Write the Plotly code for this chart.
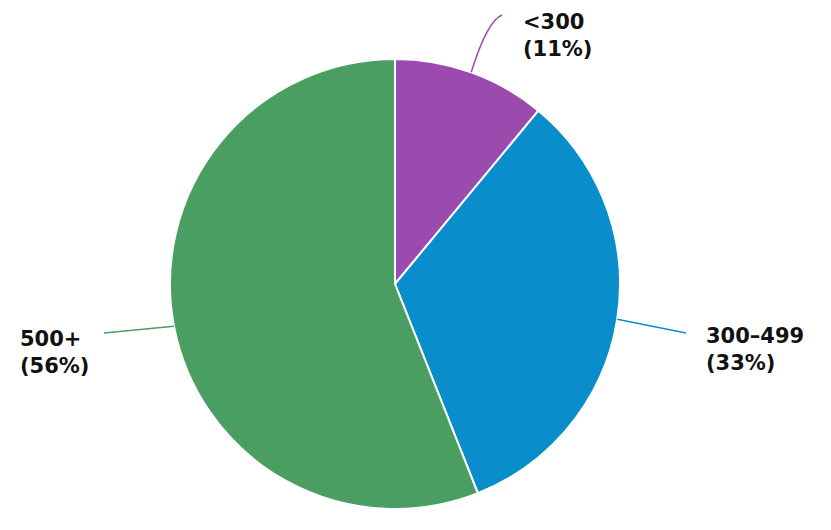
import numpy as np
import plotly.graph_objects as go

# Data
labels = ["<300", "300–499", "500+"]
shares = [11, 33, 56]
colors = ["#9b4aae", "#0a8ecb", "#4a9e62"]

W, H = 831, 530
cx, cy, r = 387, 276, 225  # pie centre and radius in px

fig = go.Figure()
fig.add_trace(go.Pie(
    labels=labels, values=shares, sort=False, direction="clockwise",
    rotation=0, textinfo="none", hoverinfo="label+percent",
    marker=dict(colors=colors, line=dict(color="white", width=2)),
    domain=dict(x=[(cx - r) / W, (cx + r) / W], y=[1 - (cy + r) / H, 1 - (cy - r) / H]),
    showlegend=False,
))

# label text positions (px, top-left of text box) and leader end points
label_pos = [(513, 0), (696, 314), (10, 317)]
leader_end = [(494, 7), (678, 325), (96, 325)]

def px(x, y):
    return x / W, 1 - y / H

cum = np.cumsum([0] + shares[:-1])
shapes, annotations = [], []
for i, lab in enumerate(labels):
    mid = (cum[i] + shares[i] / 2) / sum(shares) * 2 * np.pi
    sx, sy = cx + r * np.sin(mid), cy - r * np.cos(mid)
    ex, ey = leader_end[i]
    if i == 0:
        # curved leader
        kx, ky = sx + 16, ey + 6
        p0, p1, p2 = px(sx, sy), px(kx, ky), px(ex, ey)
        path = f"M {p0[0]},{p0[1]} Q {p1[0]},{p1[1]} {p2[0]},{p2[1]}"
        shapes.append(dict(type="path", path=path, xref="paper", yref="paper",
                           line=dict(color=colors[i], width=1.5)))
    else:
        a, b = px(sx, sy), px(ex, ey)
        shapes.append(dict(type="line", xref="paper", yref="paper",
                           x0=a[0], y0=a[1], x1=b[0], y1=b[1],
                           line=dict(color=colors[i], width=1.5)))
    tx, ty = px(*label_pos[i])
    annotations.append(dict(
        x=tx, y=ty, xref="paper", yref="paper", xanchor="left", yanchor="top",
        text=f"{lab}<br>({shares[i]}%)", showarrow=False, align="left",
        font=dict(family="DejaVu Sans", size=21, color="#111111", weight="bold"),
    ))

fig.update_layout(
    width=W, height=H, margin=dict(l=0, r=0, t=0, b=0),
    paper_bgcolor="white", plot_bgcolor="white",
    shapes=shapes, annotations=annotations,
)

fig.write_html("out.html")
